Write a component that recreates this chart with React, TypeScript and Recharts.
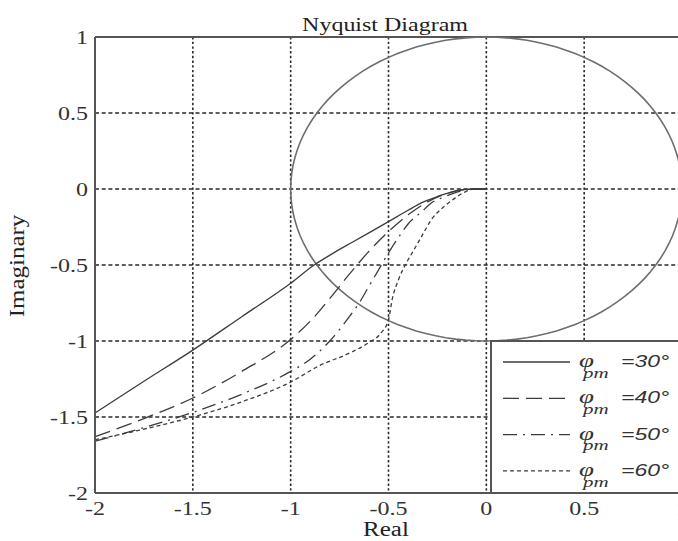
import React from 'react';
import { ComposedChart, Line, XAxis, YAxis, CartesianGrid, ReferenceLine } from 'recharts';

type Pt = { re: number; im: number };

// Axis ticks (real / imaginary parts)
const realTicks = [-2, -1.5, -1, -0.5, 0, 0.5, 1];
const imagTicks = [-2, -1.5, -1, -0.5, 0, 0.5, 1];

// Open-loop Nyquist loci for several phase-margin designs
const pm30: Pt[] = [
  { re: -2, im: -1.474 }, { re: -1.75, im: -1.265 }, { re: -1.5, im: -1.06 },
  { re: -1.25, im: -0.84 }, { re: -1, im: -0.62 }, { re: -0.88, im: -0.5 },
  { re: -0.78, im: -0.42 }, { re: -0.685, im: -0.35 }, { re: -0.5, im: -0.215 },
  { re: -0.4, im: -0.14 }, { re: -0.33, im: -0.09 }, { re: -0.25, im: -0.05 },
  { re: -0.18, im: -0.02 }, { re: -0.12, im: -0.004 }, { re: -0.06, im: 0 }, { re: 0, im: 0 },
];

const pm40: Pt[] = [
  { re: -2, im: -1.63 }, { re: -1.75, im: -1.51 }, { re: -1.5, im: -1.375 },
  { re: -1.25, im: -1.2 }, { re: -1, im: -0.99 }, { re: -0.9, im: -0.87 },
  { re: -0.8, im: -0.72 }, { re: -0.7, im: -0.56 }, { re: -0.6, im: -0.41 },
  { re: -0.5, im: -0.28 }, { re: -0.4, im: -0.17 }, { re: -0.3, im: -0.085 },
  { re: -0.2, im: -0.03 }, { re: -0.12, im: -0.006 }, { re: -0.06, im: 0 }, { re: 0, im: 0 },
];

const pm50: Pt[] = [
  { re: -2, im: -1.66 }, { re: -1.75, im: -1.57 }, { re: -1.5, im: -1.47 },
  { re: -1.25, im: -1.35 }, { re: -1, im: -1.2 }, { re: -0.9, im: -1.12 },
  { re: -0.8, im: -1.0 }, { re: -0.7, im: -0.84 }, { re: -0.65, im: -0.75 },
  { re: -0.6, im: -0.64 }, { re: -0.55, im: -0.53 }, { re: -0.5, im: -0.42 },
  { re: -0.45, im: -0.32 }, { re: -0.4, im: -0.23 }, { re: -0.33, im: -0.15 },
  { re: -0.28, im: -0.09 }, { re: -0.22, im: -0.055 }, { re: -0.15, im: -0.02 },
  { re: -0.1, im: -0.004 }, { re: -0.05, im: 0 }, { re: 0, im: 0 },
];

const pm60: Pt[] = [
  { re: -2, im: -1.65 }, { re: -1.75, im: -1.58 }, { re: -1.5, im: -1.5 },
  { re: -1.25, im: -1.4 }, { re: -1, im: -1.27 }, { re: -0.85, im: -1.16 },
  { re: -0.7, im: -1.08 }, { re: -0.6, im: -1.01 }, { re: -0.54, im: -0.95 },
  { re: -0.5, im: -0.86 }, { re: -0.48, im: -0.72 }, { re: -0.45, im: -0.6 },
  { re: -0.41, im: -0.49 }, { re: -0.37, im: -0.4 }, { re: -0.33, im: -0.31 },
  { re: -0.28, im: -0.2 }, { re: -0.22, im: -0.12 }, { re: -0.16, im: -0.06 },
  { re: -0.11, im: -0.02 }, { re: -0.06, im: 0 }, { re: 0, im: 0 },
];

// Unit-magnitude circle |L(jw)| = 1, sampled every 3 degrees
const UNIT_RADIUS = 1;
const circleDegrees = Array.from({ length: 121 }, (_, i) => i * 3);
const unitCircle: Pt[] = circleDegrees.map((d) => ({
  re: UNIT_RADIUS * Math.cos((d * Math.PI) / 180),
  im: UNIT_RADIUS * Math.sin((d * Math.PI) / 180),
}));

const series = [
  { key: 'pm30', data: pm30, dash: undefined as string | undefined, label: '30' },
  { key: 'pm40', data: pm40, dash: '16 7', label: '40' },
  { key: 'pm50', data: pm50, dash: '14 6 2 6', label: '50' },
  { key: 'pm60', data: pm60, dash: '4 3', label: '60' },
];

const SERIF = '"Liberation Serif", "Times New Roman", serif';
const SANS = '"Liberation Sans", Arial, sans-serif';
const INK = '#333';
const CURVE = '#3c3c3c';
const FRAME = '#555';

const RealTick = (props: any) => {
  const { x, y, payload } = props;
  return (
    <g transform={`translate(${x},${y}) scale(1,0.8)`}>
      <text x={0} y={27.5} textAnchor="middle" fontFamily={SERIF} fontSize={24} fill={INK}>
        {payload.value}
      </text>
    </g>
  );
};

const ImagTick = (props: any) => {
  const { x, y, payload } = props;
  return (
    <g transform={`translate(${x},${y}) scale(1,0.8)`}>
      <text x={-7} y={8.2} textAnchor="end" fontFamily={SERIF} fontSize={24} fill={INK}>
        {payload.value}
      </text>
    </g>
  );
};

const LegendBox = () => (
  <div style={{ position: 'absolute', left: 490, top: 340 }}>
    <svg width={220} height={156}>
      <rect x={1} y={1} width={216} height={152} fill="#fff" stroke={FRAME} strokeWidth={2} />
      {series.map((s, i) => {
        const cy = 22 + i * 36.3;
        return (
          <g key={s.key}>
            <line x1={13} x2={80} y1={cy} y2={cy} stroke={CURVE} strokeWidth={1.3} strokeDasharray={s.dash} />
            <g transform={`translate(89,${cy + 5}) scale(1,0.72)`}>
              <text x={0} y={0} fontStyle="italic" fill={INK}>
                <tspan fontFamily={SERIF} fontSize={27}>φ</tspan>
                <tspan x={4} dy={15} fontFamily={SERIF} fontSize={21}>pm</tspan>
                <tspan x={42} dy={-15} fontFamily={SANS} fontSize={23}>{`=${s.label}°`}</tspan>
              </text>
            </g>
          </g>
        );
      })}
    </svg>
  </div>
);

const Captions = () => (
  <svg width={678} height={541} style={{ position: 'absolute', left: 0, top: 0, pointerEvents: 'none' }}>
    <g transform="translate(385,31) scale(1,0.8)">
      <text textAnchor="middle" fontFamily={SERIF} fontSize={24} fill="#222">Nyquist Diagram</text>
    </g>
    <g transform="translate(386,536) scale(1,0.8)">
      <text textAnchor="middle" fontFamily={SERIF} fontSize={25} fill="#222">Real</text>
    </g>
    <g transform="translate(24,266) rotate(-90) scale(1,0.8)">
      <text textAnchor="middle" fontFamily={SERIF} fontSize={25} fill="#222">Imaginary</text>
    </g>
  </svg>
);

export default function App() {
  return (
    <div
      style={{
        position: 'absolute', left: 0, top: 0, width: 678, height: 541,
        overflow: 'hidden', background: '#fff',
      }}
    >
      <ComposedChart width={700} height={541} margin={{ top: 37, right: 18, bottom: 0, left: 0 }}>
        <CartesianGrid vertical={false} stroke="#2a2a2a" strokeWidth={1.4} strokeDasharray="4 2.7" />
        <CartesianGrid horizontal={false} stroke="#2a2a2a" strokeWidth={1.6} strokeDasharray="2.4 2.3" />
        <XAxis
          type="number"
          dataKey="re"
          domain={[-2, 1]}
          ticks={realTicks}
          interval={0}
          height={48}
          tickSize={0}
          tickMargin={0}
          tickLine={false}
          axisLine={{ stroke: FRAME, strokeWidth: 2 }}
          tick={<RealTick />}
        />
        <YAxis
          type="number"
          dataKey="im"
          domain={[-2, 1]}
          ticks={imagTicks}
          interval={0}
          width={95}
          tickSize={0}
          tickMargin={0}
          tickLine={false}
          axisLine={{ stroke: FRAME, strokeWidth: 2 }}
          tick={<ImagTick />}
        />
        <ReferenceLine y={1} stroke={FRAME} strokeWidth={2} />
        <ReferenceLine x={1} stroke={FRAME} strokeWidth={2} />
        <Line
          data={unitCircle}
          dataKey="im"
          type="linear"
          stroke="#6e6e6e"
          strokeWidth={1.6}
          dot={false}
          activeDot={false}
          isAnimationActive={false}
        />
        {series.map((s) => (
          <Line
            key={s.key}
            data={s.data}
            dataKey="im"
            type="monotone"
            stroke={CURVE}
            strokeWidth={1.3}
            strokeDasharray={s.dash}
            dot={false}
            activeDot={false}
            isAnimationActive={false}
          />
        ))}
      </ComposedChart>
      <Captions />
      <LegendBox />
    </div>
  );
}
